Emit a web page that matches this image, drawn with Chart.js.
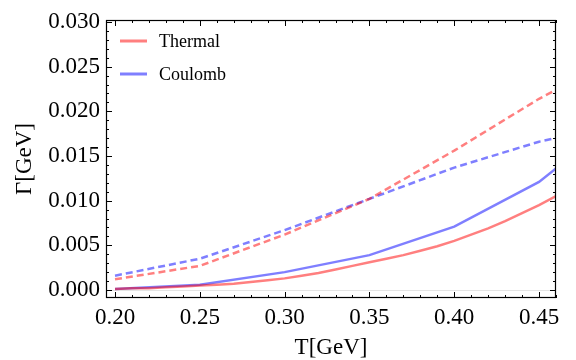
<!DOCTYPE html>
<html>
<head>
<meta charset="utf-8">
<script src="https://cdn.jsdelivr.net/npm/chart.js@4.4.0/dist/chart.umd.min.js"></script>
<style>
  html, body { margin: 0; padding: 0; background: #fff; }
</style>
</head>
<body>
<canvas id="grafica" width="576" height="360"></canvas>
<script>
// datos
const tempThermal = [0.20, 0.21, 0.22, 0.23, 0.24, 0.25, 0.26, 0.27, 0.28, 0.29, 0.30, 0.31, 0.32, 0.33,
                     0.34, 0.35, 0.36, 0.37, 0.38, 0.39, 0.40, 0.41, 0.42, 0.43, 0.44, 0.45, 0.46];
const gammaThermal = [0.0001, 0.0002, 0.0002, 0.0003, 0.0004, 0.0005, 0.0006, 0.0007, 0.0009, 0.0011, 0.0013,
                      0.0016, 0.0019, 0.0023, 0.0027, 0.0031, 0.0035, 0.0039, 0.0044, 0.0049, 0.0055, 0.0062,
                      0.0069, 0.0077, 0.0086, 0.0095, 0.0105];
const tempCoulomb = [0.20, 0.25, 0.30, 0.35, 0.40, 0.45, 0.46];
const gammaCoulomb = [0.0001, 0.0006, 0.0020, 0.0039, 0.0071, 0.0121, 0.0136];
const tempDashed = [0.20, 0.25, 0.30, 0.35, 0.40, 0.45, 0.46];
const gammaThermalDashed = [0.0012, 0.0027, 0.0062, 0.0102, 0.0156, 0.0214, 0.0224];
const gammaCoulombDashed = [0.0016, 0.0035, 0.0067, 0.0102, 0.0137, 0.0166, 0.0170];

const xTicks = [0.20, 0.25, 0.30, 0.35, 0.40, 0.45];
const yTicks = [0.000, 0.005, 0.010, 0.015, 0.020, 0.025, 0.030];
const legendLabels = ['Thermal', 'Coulomb'];

const rojo = 'rgba(255, 0, 0, 0.5)';
const azul = 'rgba(0, 0, 255, 0.5)';
const fuente = '"Liberation Serif", "DejaVu Serif", serif';

function puntos(xs, ys) {
    return xs.map((x, i) => ({ x: x, y: ys[i] }));
}

// marco con marcas hacia adentro, linea en cero y leyenda
const marcoPlugin = {
    id: 'marco',
    beforeDatasetsDraw(chart) {
        const { ctx, chartArea: a, scales } = chart;
        const y0 = Math.round(scales.y.getPixelForValue(0));
        ctx.save();
        ctx.strokeStyle = '#e4e4e4';
        ctx.lineWidth = 1;
        ctx.beginPath();
        ctx.moveTo(a.left, y0 + 0.5);
        ctx.lineTo(a.right, y0 + 0.5);
        ctx.stroke();
        ctx.restore();
    },
    afterDatasetsDraw(chart) {
        const { ctx, chartArea: a, scales } = chart;
        ctx.save();
        ctx.strokeStyle = '#000';
        ctx.lineWidth = 1.2;
        ctx.strokeRect(a.left + 0.5, a.top + 0.5, a.right - a.left - 1, a.bottom - a.top - 1);
        ctx.lineWidth = 1;
        ctx.beginPath();
        // eje x: cada 0.01
        for (let i = 20; i <= 46; i++) {
            const v = i / 100;
            const px = Math.round(scales.x.getPixelForValue(v)) + 0.5;
            const len = (i % 5 === 0) ? 6 : 3;
            ctx.moveTo(px, a.bottom);
            ctx.lineTo(px, a.bottom - len);
            ctx.moveTo(px, a.top);
            ctx.lineTo(px, a.top + len);
        }
        // eje y: cada 0.001
        for (let j = 0; j <= 30; j++) {
            const v = j / 1000;
            const py = Math.round(scales.y.getPixelForValue(v)) + 0.5;
            const len = (j % 5 === 0) ? 6 : 3;
            ctx.moveTo(a.left, py);
            ctx.lineTo(a.left + len, py);
            ctx.moveTo(a.right, py);
            ctx.lineTo(a.right - len, py);
        }
        ctx.stroke();

        // leyenda
        const colores = [rojo, azul];
        ctx.font = '18px ' + fuente;
        ctx.textBaseline = 'middle';
        ctx.fillStyle = '#000';
        legendLabels.forEach((txt, k) => {
            const ly = a.top + 21 + k * 33;
            ctx.strokeStyle = colores[k];
            ctx.lineWidth = 3;
            ctx.beginPath();
            ctx.moveTo(a.left + 14, ly);
            ctx.lineTo(a.left + 41, ly);
            ctx.stroke();
            ctx.fillText(txt, a.left + 53, ly + 1);
        });
        ctx.restore();
    }
};

const ctx = document.getElementById('grafica').getContext('2d');
new Chart(ctx, {
    type: 'line',
    data: {
        datasets: [
            { label: 'Thermal (dashed)', data: puntos(tempDashed, gammaThermalDashed), borderColor: rojo, borderDash: [7, 4], borderWidth: 2.5 },
            { label: 'Coulomb (dashed)', data: puntos(tempDashed, gammaCoulombDashed), borderColor: azul, borderDash: [7, 4], borderWidth: 2.5 },
            { label: 'Thermal', data: puntos(tempThermal, gammaThermal), borderColor: rojo, borderWidth: 2.5 },
            { label: 'Coulomb', data: puntos(tempCoulomb, gammaCoulomb), borderColor: azul, borderWidth: 2.5 }
        ]
    },
    options: {
        responsive: false,
        animation: false,
        elements: {
            point: { radius: 0 },
            line: { tension: 0, fill: false }
        },
        layout: { padding: { top: 20, right: 20, left: 0, bottom: 0 } },
        plugins: {
            legend: { display: false },
            tooltip: { enabled: false }
        },
        scales: {
            x: {
                type: 'linear',
                min: 0.19469,
                max: 0.46,
                afterBuildTicks: (scale) => { scale.ticks = xTicks.map(v => ({ value: v })); },
                afterFit: (scale) => { scale.height = 62; },
                grid: { display: false, drawTicks: false },
                border: { display: false },
                ticks: {
                    autoSkip: false,
                    maxRotation: 0,
                    padding: 6,
                    color: '#000',
                    font: { family: fuente, size: 23 },
                    callback: (v) => v.toFixed(2)
                },
                title: {
                    display: true,
                    text: 'T[GeV]',
                    color: '#000',
                    font: { family: fuente, size: 23, lineHeight: 1.05 },
                    padding: 0
                }
            },
            y: {
                type: 'linear',
                min: -0.000896,
                max: 0.03022,
                afterBuildTicks: (scale) => { scale.ticks = yTicks.map(v => ({ value: v })); },
                afterFit: (scale) => { scale.width = 106; },
                grid: { display: false, drawTicks: false },
                border: { display: false },
                ticks: {
                    autoSkip: false,
                    padding: 6,
                    color: '#000',
                    font: { family: fuente, size: 23 },
                    callback: (v) => v.toFixed(3)
                },
                title: {
                    display: true,
                    text: 'Γ[GeV]',
                    color: '#000',
                    font: { family: fuente, size: 23, lineHeight: 2.2 },
                    padding: 0
                }
            }
        }
    },
    plugins: [marcoPlugin]
});
</script>
</body>
</html>
